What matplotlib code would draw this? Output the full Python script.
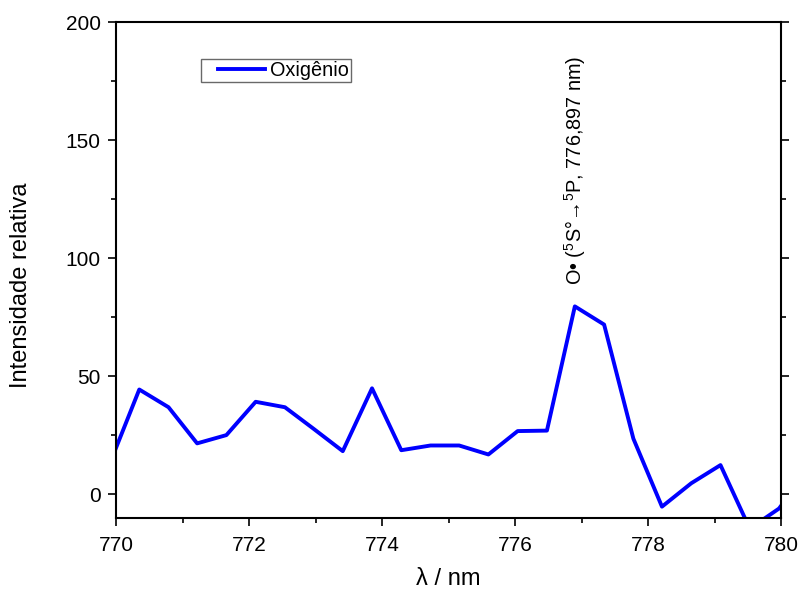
import matplotlib
matplotlib.use("Agg")
import matplotlib.pyplot as plt
from matplotlib.ticker import MultipleLocator
from matplotlib.lines import Line2D
from matplotlib.legend_handler import HandlerLine2D

plt.rcParams['font.family'] = ['Liberation Sans', 'DejaVu Sans']
plt.rcParams['mathtext.fontset'] = 'custom'
plt.rcParams['mathtext.rm'] = 'Liberation Sans'
plt.rcParams['mathtext.it'] = 'Liberation Sans:italic'
plt.rcParams['mathtext.bf'] = 'Liberation Sans:bold'

wavelength = [769.91, 770.35, 770.79, 771.22, 771.66, 772.10, 772.54, 772.97,
              773.41, 773.85, 774.29, 774.73, 775.16, 775.60, 776.04, 776.48,
              776.90, 777.34, 777.78, 778.21, 778.65, 779.09, 779.53, 779.97,
              780.40]
intensity = [13.3, 44.4, 36.9, 21.6, 25.1, 39.2, 36.9, 27.8,
             18.3, 44.9, 18.7, 20.7, 20.7, 16.9, 26.8, 27.0,
             79.6, 71.9, 23.6, -5.2, 4.7, 12.4, -14.5, -6.0,
             10.0]
series_label = "Oxigênio"
annotation = r"O• ($^5$S°→$^5$P, 776,897 nm)"

fig = plt.figure(figsize=(7.98, 5.92), dpi=100)
ax = fig.add_axes([116/798, 1 - 518/592, (781-116)/798, (518-22)/592])

line, = ax.plot(wavelength, intensity, color='#0000FF', lw=2.8,
                label=series_label)
ax.set_xlim(770, 780)
ax.set_ylim(-10, 200)

ax.xaxis.set_major_locator(MultipleLocator(2))
ax.xaxis.set_minor_locator(MultipleLocator(1))
ax.yaxis.set_major_locator(MultipleLocator(50))
ax.yaxis.set_minor_locator(MultipleLocator(25))
ax.tick_params(which='both', direction='out', width=1.2, labelsize=15,
               right=True, top=False)
ax.tick_params(axis='x', pad=7)
ax.tick_params(axis='y', pad=5)
ax.tick_params(which='major', length=6)
ax.tick_params(which='minor', length=3.5)
for s in ax.spines.values():
    s.set_linewidth(1.5)

ax.set_xlabel("λ / nm", fontsize=17)
ax.set_ylabel("Intensidade relativa", fontsize=17)
ax.xaxis.set_label_coords(0.5, -0.1)
ax.yaxis.set_label_coords(-0.127, 0.47)

ax.text(776.897, 88.5, annotation, rotation=90, ha='center', va='bottom',
        fontsize=14.3)

leg = ax.legend(handles=[line], loc='upper left',
                bbox_to_anchor=(0.128, 0.925), fontsize=14.3,
                frameon=True, fancybox=False, edgecolor='#444444',
                borderpad=0.1, handlelength=3.1, handletextpad=0.25,
                borderaxespad=0,
                handler_map={Line2D: HandlerLine2D(xpad=0.75)})
leg.get_frame().set_linewidth(1.0)

fig.savefig("out.png", dpi=100)
